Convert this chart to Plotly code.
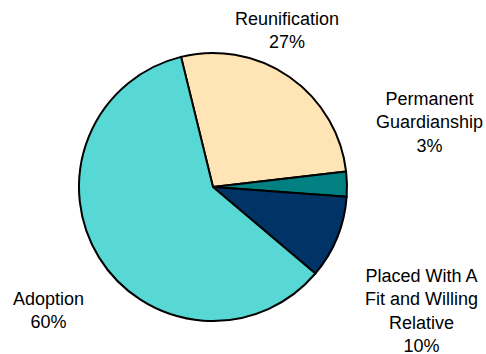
import plotly.graph_objects as go

# Permanency outcomes, in percent of cases
outcomes = ["Reunification", "Permanent<br>Guardianship", "Placed With A<br>Fit and Willing<br>Relative", "Adoption"]
shares = [27, 3, 10, 60]
colors = ["#FFE4B5", "#008080", "#003366", "#57D8D4"]

# Label anchor positions (paper coordinates) for each outcome
label_x = [0.591, 0.883, 0.868, 0.099]
label_y = [0.915, 0.655, 0.1215, 0.1229]

W, H = 486, 354
cx, cy, r = 213, 187, 134

fig = go.Figure(go.Pie(
    labels=outcomes,
    values=shares,
    sort=False,
    direction="clockwise",
    rotation=-13.8,
    marker=dict(colors=colors, line=dict(color="black", width=2)),
    textinfo="none",
    hoverinfo="label+percent",
    showlegend=False,
    domain=dict(x=[(cx - r) / W, (cx + r) / W], y=[(H - cy - r) / H, (H - cy + r) / H]),
))

for name, val, x, y in zip(outcomes, shares, label_x, label_y):
    fig.add_annotation(
        x=x, y=y, xref="paper", yref="paper",
        text=f"{name}<br>{val}%",
        showarrow=False, align="center",
        xanchor="center", yanchor="middle",
        font=dict(family="Liberation Sans, Arial, sans-serif", size=18, color="black"),
    )

fig.update_layout(
    width=W, height=H,
    margin=dict(l=0, r=0, t=0, b=0),
    paper_bgcolor="white",
    plot_bgcolor="white",
)

fig.write_html("out.html")
